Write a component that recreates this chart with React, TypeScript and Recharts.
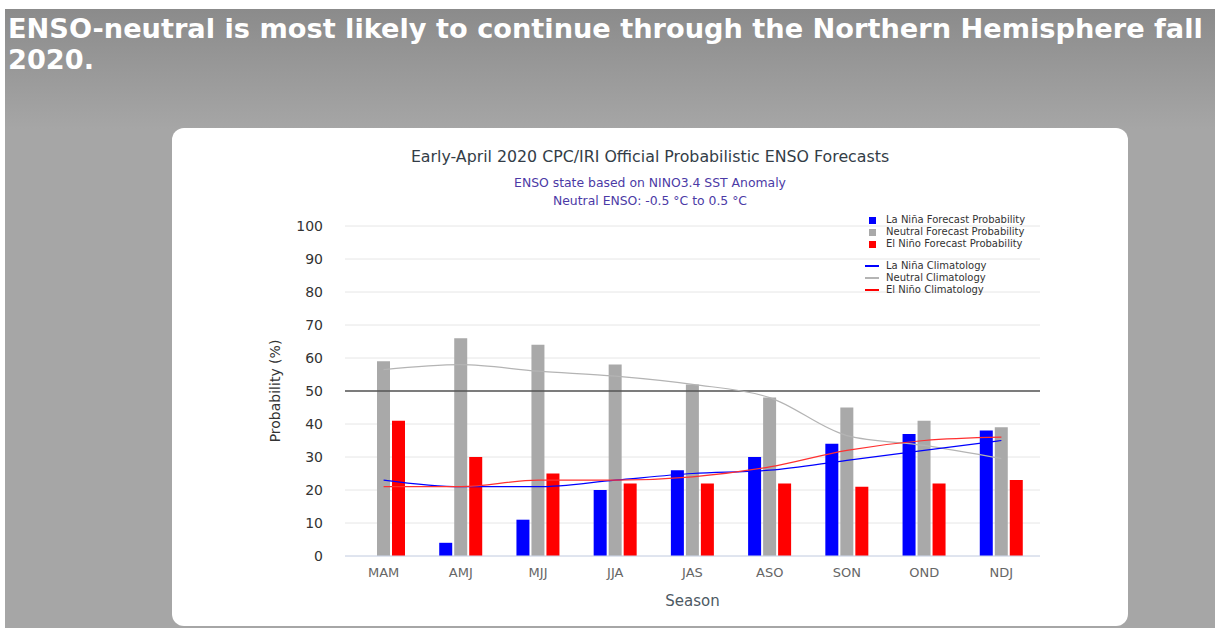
import React from 'react';
import {
  Bar,
  CartesianGrid,
  ComposedChart,
  Legend,
  Line,
  ReferenceLine,
  XAxis,
  YAxis,
} from 'recharts';

const seasons = ['MAM', 'AMJ', 'MJJ', 'JJA', 'JAS', 'ASO', 'SON', 'OND', 'NDJ'];
const laNinaProb = [0, 4, 11, 20, 26, 30, 34, 37, 38];
const neutralProb = [59, 66, 64, 58, 52, 48, 45, 41, 39];
const elNinoProb = [41, 30, 25, 22, 22, 22, 21, 22, 23];
const laNinaClim = [23, 21, 21, 23, 25, 26, 29, 32, 35];
const neutralClim = [56.5, 58, 56, 54.5, 52, 48, 36.5, 33.5, 29.5];
const elNinoClim = [21, 21, 23, 23, 24, 27, 32, 35, 36];
const yTicks = [0, 10, 20, 30, 40, 50, 60, 70, 80, 90, 100];

const barItems = [
  { label: 'La Niña Forecast Probability', color: '#0000ff' },
  { label: 'Neutral Forecast Probability', color: '#a9a9a9' },
  { label: 'El Niño Forecast Probability', color: '#ff0000' },
];
const lineItems = [
  { label: 'La Niña Climatology', color: '#0000ff' },
  { label: 'Neutral Climatology', color: '#b4b4b4' },
  { label: 'El Niño Climatology', color: '#ff0000' },
];

const chartData = seasons.map((season, i) => ({
  season,
  laNina: laNinaProb[i],
  neutral: neutralProb[i],
  elNino: elNinoProb[i],
  laNinaClim: laNinaClim[i],
  neutralClim: neutralClim[i],
  elNinoClim: elNinoClim[i],
}));

const FONT = '"DejaVu Sans", Verdana, sans-serif';

const LegendBox = () => (
  <div style={{ fontFamily: FONT, fontSize: 10, color: '#333', lineHeight: '12px', textAlign: 'left' }}>
    {barItems.map((it) => (
      <div key={it.label} style={{ display: 'flex', alignItems: 'center', height: 12 }}>
        <span style={{ display: 'inline-block', width: 7, height: 7, background: it.color, marginLeft: 4, marginRight: 10 }} />
        {it.label}
      </div>
    ))}
    <div style={{ height: 10 }} />
    {lineItems.map((it) => (
      <div key={it.label} style={{ display: 'flex', alignItems: 'center', height: 12 }}>
        <span style={{ display: 'inline-block', width: 14, height: 1.2, background: it.color, marginRight: 7 }} />
        {it.label}
      </div>
    ))}
  </div>
);

const YLabel = (props: any) => {
  const vb = props.viewBox || {};
  const x = vb.x + 25;
  const y = vb.y + vb.height / 2;
  return (
    <text x={x} y={y} transform={`rotate(-90, ${x}, ${y})`} textAnchor="middle"
      fill="#333" fontSize={14} fontFamily={FONT}>
      Probability (%)
    </text>
  );
};

export default function App() {
  return (
    <div style={{ position: 'fixed', left: 0, top: 0, width: 1215, height: 628, background: '#fff', overflow: 'hidden' }}>
      <div style={{
        position: 'absolute', left: 5, top: 9, width: 1210, height: 619,
        background: 'linear-gradient(#8b8b8b 0px, #a6a6a6 120px, #a6a6a6 100%)',
      }} />
      <div style={{
        position: 'absolute', left: 8, top: 13, whiteSpace: 'nowrap',
        fontFamily: FONT, fontWeight: 'bold', fontSize: 27.2, lineHeight: '31px', color: '#fff',
      }}>
        ENSO-neutral is most likely to continue through the Northern Hemisphere fall<br />2020.
      </div>
      <div style={{
        position: 'absolute', left: 172, top: 128, width: 956, height: 498,
        background: '#fff', borderRadius: 12, overflow: 'hidden',
      }}>
        <div style={{ position: 'absolute', left: 0, top: 19, width: 956, textAlign: 'center', fontFamily: FONT, fontSize: 15.8, color: '#333d47' }}>
          Early-April 2020 CPC/IRI Official Probabilistic ENSO Forecasts
        </div>
        <div style={{ position: 'absolute', left: 0, top: 46, width: 956, textAlign: 'center', fontFamily: FONT, fontSize: 12.4, lineHeight: '18px', color: '#4b3aa6' }}>
          ENSO state based on NINO3.4 SST Anomaly<br />Neutral ENSO: -0.5 °C to 0.5 °C
        </div>
        <ComposedChart
          width={956}
          height={498}
          data={chartData}
          margin={{ top: 98, right: 88, left: 83, bottom: 20 }}
          barSize={13}
          barGap={2}
        >
          <CartesianGrid vertical={false} stroke="#e6e6e6" />
          <XAxis
            dataKey="season"
            height={50}
            tick={{ fill: '#666', fontSize: 13, fontFamily: FONT }}
            tickLine={false}
            axisLine={{ stroke: '#ccd6eb' }}
            tickMargin={6}
            label={{ value: 'Season', position: 'insideBottom', offset: 0, fill: '#4d5963', fontSize: 15, fontFamily: FONT }}
          />
          <YAxis
            width={90}
            domain={[0, 100]}
            ticks={yTicks}
            interval={0}
            tick={{ fill: '#333', fontSize: 14, fontFamily: FONT }}
            tickLine={false}
            axisLine={false}
            tickMargin={16}
            label={<YLabel />}
          />
          <Legend
            verticalAlign="middle"
            align="center"
            layout="horizontal"
            content={<LegendBox />}
            wrapperStyle={{ position: 'absolute', left: 693, top: 86, width: 180 }}
          />
          <Bar dataKey="laNina" fill="#0000ff" isAnimationActive={false} />
          <Bar dataKey="neutral" fill="#a9a9a9" isAnimationActive={false} />
          <Bar dataKey="elNino" fill="#ff0000" isAnimationActive={false} />
          <ReferenceLine y={50} stroke="#555" strokeWidth={1.5} />
          <Line type="monotone" dataKey="neutralClim" stroke="#b4b4b4" strokeWidth={1.2} dot={false} isAnimationActive={false} />
          <Line type="monotone" dataKey="laNinaClim" stroke="#0000ff" strokeWidth={1.2} dot={false} isAnimationActive={false} />
          <Line type="monotone" dataKey="elNinoClim" stroke="#ff3030" strokeWidth={1.2} dot={false} isAnimationActive={false} />
        </ComposedChart>
      </div>
    </div>
  );
}
